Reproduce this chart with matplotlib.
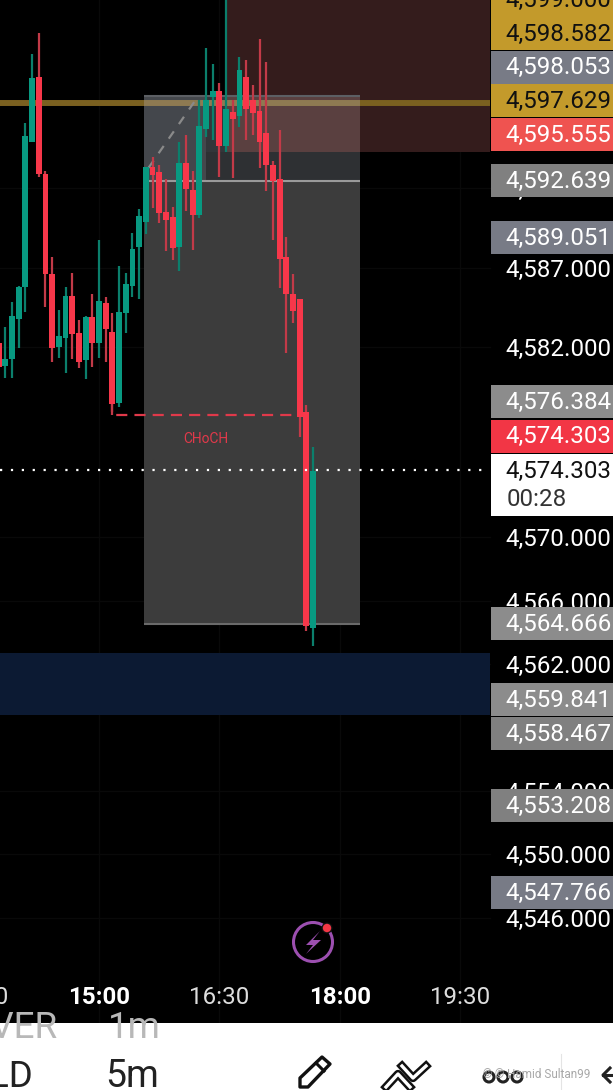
import matplotlib
matplotlib.use("Agg")
import matplotlib.pyplot as plt
import numpy as np
from matplotlib.patches import Rectangle, Circle, Polygon

plt.rcParams["font.family"] = ["Roboto", "DejaVu Sans"]

# 5 minute candles, first one is 13:45
first_time = 825
opens = [4582.23, 4580.80, 4581.22, 4583.77, 4585.81, 4594.95, 4599.06, 4592.91, 4586.61, 4582.02,
         4582.57, 4585.22, 4582.90, 4581.18, 4583.91, 4582.27, 4584.78, 4582.95, 4578.49, 4584.15,
         4585.85, 4588.31, 4589.89, 4593.38, 4593.04, 4590.52, 4590.20, 4588.31, 4593.61, 4591.91,
         4590.33, 4595.75, 4597.77, 4598.15, 4594.68, 4596.83, 4596.57, 4599.03, 4597.58, 4596.89,
         4595.50, 4593.48, 4592.60, 4587.68, 4585.34, 4585.03, 4577.90, 4564.27]
highs = [4582.23, 4583.28, 4584.86, 4585.85, 4596.15, 4600.49, 4601.83, 4593.10, 4587.70, 4584.33,
         4585.81, 4586.65, 4583.70, 4583.96, 4585.34, 4588.75, 4585.18, 4584.12, 4587.11, 4586.65,
         4589.21, 4590.69, 4593.38, 4594.01, 4593.48, 4592.58, 4590.85, 4594.93, 4595.38, 4593.10,
         4597.58, 4600.86, 4599.85, 4598.64, 4605.15, 4597.58, 4600.32, 4600.11, 4598.53, 4601.43,
         4599.98, 4593.74, 4595.69, 4588.94, 4586.61, 4585.03, 4578.34, 4575.71]
lows = [4580.76, 4580.02, 4580.02, 4581.92, 4584.23, 4594.95, 4592.75, 4584.54, 4581.07, 4581.28,
        4580.34, 4581.22, 4580.65, 4579.96, 4580.76, 4581.28, 4581.07, 4577.71, 4578.19, 4582.86,
        4585.18, 4585.05, 4589.13, 4590.77, 4589.82, 4588.08, 4587.49, 4586.79, 4590.58, 4588.12,
        4590.12, 4595.27, 4595.06, 4592.75, 4594.30, 4592.64, 4595.90, 4595.06, 4595.38, 4593.27,
        4591.84, 4588.75, 4585.72, 4581.64, 4583.54, 4576.34, 4564.10, 4563.14]
closes = [4580.76, 4581.22, 4583.96, 4585.81, 4595.31, 4598.97, 4592.91, 4586.61, 4581.94, 4582.69,
          4585.22, 4582.82, 4581.05, 4583.91, 4582.27, 4584.90, 4583.11, 4578.40, 4584.21, 4585.97,
          4588.18, 4590.26, 4593.38, 4592.83, 4590.45, 4590.01, 4588.25, 4593.61, 4591.97, 4590.33,
          4595.94, 4597.58, 4598.15, 4594.68, 4597.02, 4596.38, 4599.48, 4597.02, 4596.76, 4594.93,
          4593.48, 4592.47, 4587.55, 4585.34, 4584.27, 4577.58, 4564.40, 4574.20]

tick_prices = [4592, 4587, 4582, 4570, 4566, 4562, 4554, 4550, 4546]
time_ticks = [810, 900, 990, 1080, 1170]
time_labels = ["13:30", "15:00", "16:30", "18:00", "19:30"]
time_bold = [False, True, False, True, False]

# price tags on the right: text, centre pixel, colour, text colour
tag_text = ["4,599.000", "4,598.582", "4,598.053", "4,597.629", "4,595.555", "4,592.639", "4,589.051",
            "4,576.384", "4,574.303", "4,564.666", "4,559.841", "4,558.467", "4,553.208", "4,547.766"]
tag_y = [0, 33.5, 67, 100.5, 134.5, 180.5, 237.5, 401.5, 436, 623.5, 699.5, 733.5, 805.5, 892.5]
tag_colors = ["#c39a2b", "#c39a2b", "#787b86", "#c39a2b", "#ef5350", "#808080", "#787b86",
              "#8c8c8c", "#f23645", "#8c8c8c", "#8c8c8c", "#808080", "#808080", "#787b86"]
tag_ink = ["#111111", "#111111", "white", "#111111", "white", "white", "white",
           "white", "white", "white", "white", "white", "white", "white"]

W, H = 613, 1090
chart_h = 1023
green = "#089981"
red = "#f7374a"

fig = plt.figure(figsize=(W / 100, H / 100), dpi=100, facecolor="black")
ax = fig.add_axes([0, (H - chart_h) / H, 1, chart_h / H], facecolor="black")
ax.set_xlim(826.0, 1284.2)
ax.set_ylim(4539.35, 4603.89)
ax.axis("off")

# faint grid
for t in time_ticks:
    ax.axvline(t, color="#090909", lw=1, zorder=0)
for p in tick_prices:
    ax.plot([826, 1192], [p, p], color="#090909", lw=1, zorder=0)

# zones
ax.add_patch(Rectangle((826, 4558.78), 366.2, 3.91, color="#0c1a33", lw=0, zorder=1))
ax.add_patch(Rectangle((994.9, 4594.3), 197.3, 12, color="#341c1c", lw=0, zorder=1))
ax.add_patch(Rectangle((933.6, 4564.52), 161.5, 27.95, color="#3c3c3c", lw=0, zorder=2))
ax.add_patch(Rectangle((933.6, 4592.47), 46.4, 5.37, color="#44474c", lw=0, zorder=2))
ax.add_patch(Rectangle((980, 4592.47), 115.1, 1.83, color="#2e3033", lw=0, zorder=2))
ax.add_patch(Rectangle((980, 4594.3), 14.9, 3.54, color="#33363a", lw=0, zorder=2))
ax.add_patch(Rectangle((994.9, 4594.3), 100.2, 3.54, color="#5a4040", lw=0, zorder=2))
ax.plot([933.6, 1095.1], [4592.47, 4592.47], color="#9a9a9a", lw=1.5, solid_capstyle="butt", zorder=3)
ax.plot([933.6, 1095.1], [4564.52, 4564.52], color="#6a6a6a", lw=1.5, solid_capstyle="butt", zorder=3)
ax.plot([933.6, 1095.1], [4597.84, 4597.84], color="#5c5f64", lw=1.5, solid_capstyle="butt", zorder=3)

# gold line, lighter where it crosses the box
ax.plot([826, 933.6], [4597.4, 4597.4], color="#7a6020", lw=4.3, solid_capstyle="butt", zorder=3)
ax.plot([933.6, 1095.1], [4597.4, 4597.4], color="#8e7a52", lw=4.3, solid_capstyle="butt", zorder=3)
ax.plot([1095.1, 1192.2], [4597.4, 4597.4], color="#7a6020", lw=4.3, solid_capstyle="butt", zorder=3)

# dashed trend
ax.plot([937, 974], [4593.3, 4597.8], color="#8a8a8a", lw=1.6, ls=(0, (4, 4)), zorder=4)

# candles
times = first_time + 5 * np.arange(len(opens))
opens = np.array(opens)
closes = np.array(closes)
is_up = closes >= opens
colors = np.where(is_up, green, red)
wick_colors = np.where(is_up, "#0b7f6c", "#c23a48")
ax.vlines(times, lows, highs, colors=wick_colors, lw=1.6, zorder=5)
ax.bar(times, np.abs(closes - opens), bottom=np.minimum(opens, closes), width=4.4,
       color=colors, lw=0, zorder=6)

# CHoCH
ax.plot([909.7, 909.7, 1050], [4578.6, 4577.71, 4577.71], color="#e0394a", lw=1.6,
        ls=(0, (5, 3.2)), zorder=4)
ax.text(979.5, 4576.2, "CHoCH", color="#e0394a", fontsize=10, ha="center", va="center", zorder=7)

# last price
ax.plot([826, 1187], [4574.24, 4574.24], color="white", lw=1.6, ls=(0, (1, 3.9)), zorder=8)

# axis labels
for p in tick_prices:
    ax.text(1283.2, p, f"{p:,}.000", color="white", fontsize=17.4, ha="right", va="center_baseline", zorder=9)
for t, lab, b in zip(time_ticks, time_labels, time_bold):
    ax.text(t, 4541.12, lab, color="white" if b else "#dddddd", fontsize=17.4,
            fontweight="bold" if b else "normal", ha="center", va="center_baseline", zorder=9,
            clip_on=False)

# everything else is phone interface, in pixels
ui = fig.add_axes([0, 0, 1, 1], facecolor="none")
ui.set_xlim(0, W)
ui.set_ylim(H, 0)
ui.axis("off")

for txt, y, col, ink in zip(tag_text, tag_y, tag_colors, tag_ink):
    ui.add_patch(Rectangle((491, y - 16.5), 122, 33, color=col, lw=0, zorder=2))
    ui.text(611.5, y - 2, txt, color=ink, fontsize=17.4, ha="right", va="center_baseline", zorder=3)

ui.add_patch(Rectangle((491, 454), 122, 62, color="white", lw=0, zorder=2))
ui.text(611.5, 469, "4,574.303", color="#111111", fontsize=17.4, ha="right", va="center_baseline", zorder=3)
ui.text(507, 497, "00:28", color="#333333", fontsize=17.4, ha="left", va="center_baseline", zorder=3)

# lightning badge
ui.add_patch(Circle((313, 942), 19.5, fill=False, ec="#9c4fb0", lw=2.2, zorder=3))
ui.add_patch(Polygon([[320, 931], [306, 945], [313, 945], [306, 954], [321, 940], [313, 940]],
                     color="#9c4fb0", lw=0, zorder=3))
ui.add_patch(Circle((327, 928), 5.5, color="#111111", lw=0, zorder=4))
ui.add_patch(Circle((327, 928), 4.2, color="#f23645", lw=0, zorder=5))

# bottom toolbar
ui.add_patch(Rectangle((0, 1023), W, 67, color="white", lw=0, zorder=1))
clip = Rectangle((0, 1023), W, 67, transform=ui.transData)
for x, s in [(-34, "OVER"), (108, "1m")]:
    t = ui.text(x, 1038, s, color="#b8b8b8", fontsize=26.5, ha="left", va="baseline", zorder=3)
    t.set_clip_path(clip)
ui.text(-11, 1087, "LD", color="#222222", fontsize=26.5, ha="left", va="baseline", zorder=3)
ui.text(105, 1087, "5m", color="#222222", fontsize=27, ha="left", va="baseline", zorder=3)

# pencil
ui.add_patch(Polygon([[300, 1087], [300, 1078], [322, 1057], [330, 1064], [308, 1087]],
                     fill=False, ec="#111111", lw=2.4, joinstyle="round", zorder=3))
ui.plot([316, 324], [1063, 1071], color="#111111", lw=2.2, zorder=3)
# chevrons
ui.plot([386, 398, 410], [1087, 1074, 1087], color="#111111", lw=6, zorder=3)
ui.plot([386, 398, 410], [1087, 1074, 1087], color="white", lw=2.4, zorder=4)
ui.plot([402, 413, 426], [1066, 1078, 1066], color="#111111", lw=6, zorder=3)
ui.plot([402, 413, 426], [1066, 1078, 1066], color="white", lw=2.4, zorder=4)
# three dots
for x in [489, 503, 517]:
    ui.add_patch(Circle((x, 1077), 5, fill=False, ec="#222222", lw=2.2, zorder=3))
ui.text(483, 1075, "\u00a9 \u00a9 Hamid Sultan99", color="#a8a8a8", fontsize=8.5, ha="left", va="center", zorder=5)
ui.plot([561, 561], [1054, 1090], color="#e4e4e4", lw=0.8, zorder=3)
ui.plot([610, 603, 610], [1068, 1075, 1082], color="#222222", lw=2.2, zorder=3)
ui.plot([603, 613], [1075, 1075], color="#222222", lw=2.2, zorder=3)

fig.savefig("out.png", dpi=100, facecolor="black")
